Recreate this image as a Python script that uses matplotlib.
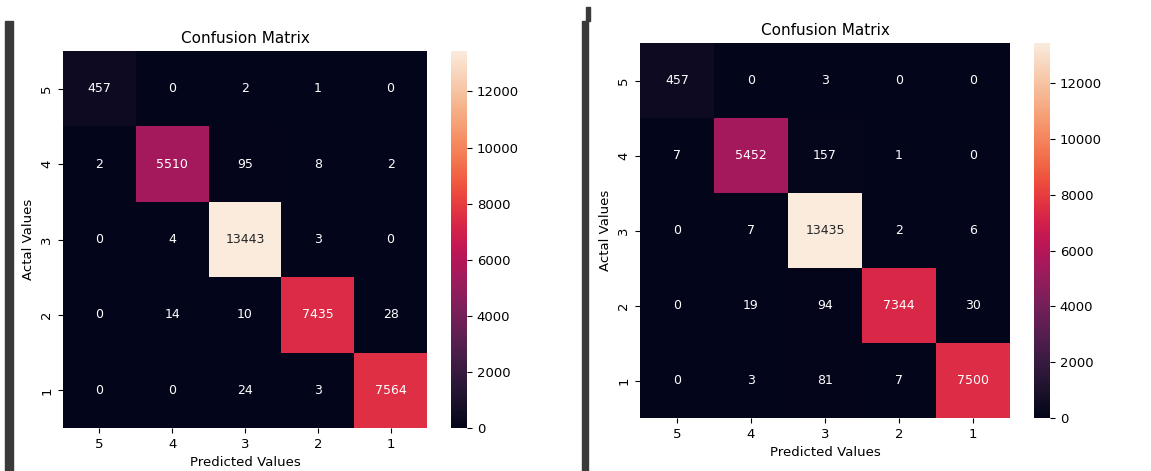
import numpy as np
import matplotlib
matplotlib.use("Agg")
import matplotlib.pyplot as plt
import seaborn as sns
from matplotlib.patches import Rectangle

labels = [5, 4, 3, 2, 1]

cm_left = np.array([
    [457, 0, 2, 1, 0],
    [2, 5510, 95, 8, 2],
    [0, 4, 13443, 3, 0],
    [0, 14, 10, 7435, 28],
    [0, 0, 24, 3, 7564],
])

cm_right = np.array([
    [457, 0, 3, 0, 0],
    [7, 5452, 157, 1, 0],
    [0, 7, 13435, 2, 6],
    [0, 19, 94, 7344, 30],
    [0, 3, 81, 7, 7500],
])

W, H = 1151, 471
fig = plt.figure(figsize=(W / 100, H / 100), dpi=100)

def box(x0, y0, x1, y1):
    # pixel box (top-left origin) -> figure fraction rect
    return [x0 / W, (H - y1) / H, (x1 - x0) / W, (y1 - y0) / H]

panels = [
    (cm_left, box(63, 51, 427, 428), box(451, 51, 467, 428)),
    (cm_right, box(640, 43, 1010, 418), box(1034, 43, 1050, 418)),
]

for cm, axrect, cbrect in panels:
    ax = fig.add_axes(axrect)
    cax = fig.add_axes(cbrect)
    sns.heatmap(cm, annot=True, fmt="d", cmap="rocket", ax=ax, cbar_ax=cax,
                xticklabels=labels, yticklabels=labels,
                annot_kws={"fontsize": 9})
    ax.set_title("Confusion Matrix", fontsize=11)
    ax.set_xlabel("Predicted Values", fontsize=9.5)
    ax.set_ylabel("Actal Values", fontsize=9.5)
    ax.tick_params(labelsize=9.5)
    plt.setp(ax.get_yticklabels(), rotation=90, va="center")
    plt.setp(ax.get_xticklabels(), rotation=0)
    cax.tick_params(labelsize=9.5)

# dark screenshot edges
fig.patches.append(Rectangle((5 / W, 0), 8 / W, (H - 21) / H, transform=fig.transFigure,
                             color="#3a3a3a", zorder=10))
fig.patches.append(Rectangle((582 / W, 0), 6 / W, (H - 21) / H, transform=fig.transFigure,
                             color="#3a3a3a", zorder=10))
fig.patches.append(Rectangle((586 / W, (H - 21) / H), 4 / W, 14 / H, transform=fig.transFigure,
                             color="#3a3a3a", zorder=10))

fig.savefig("out.png", dpi=100)
